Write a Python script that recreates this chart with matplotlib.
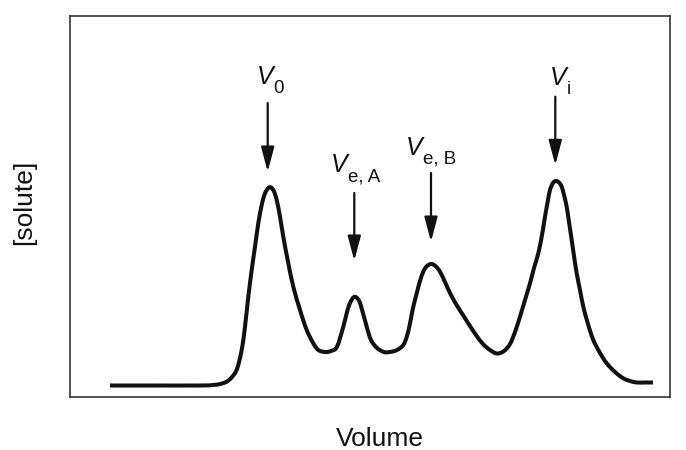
import matplotlib
matplotlib.use("Agg")
import matplotlib.pyplot as plt
import numpy as np
from matplotlib.patches import FancyArrowPatch, PathPatch
from matplotlib.path import Path

plt.rcParams['font.family'] = ['Liberation Sans', 'DejaVu Sans']

# Elution profile (arbitrary units)
volume = [40, 80, 130, 143, 150, 156.7, 162, 167, 171.7, 175, 178.3, 181.7, 185, 188.3,
          191.7, 195, 199.3, 203.3, 206.7, 210, 213.3, 218.3, 223.3, 230, 236.7, 243.3,
          248.3, 255, 261, 267, 273.3, 277, 280, 284, 288, 291, 296.7, 301, 307, 314,
          320, 327, 333.3, 337, 340, 343, 346.7, 350, 353.3, 357, 361.5, 366, 370, 375,
          380, 386, 393.3, 400, 406.7, 413, 420, 427, 434, 440, 445, 450, 455, 460, 464,
          468.3, 472, 475, 478, 480, 483, 486, 489, 491.7, 494, 496.7, 499, 501.7, 504,
          506.7, 510, 513.3, 518, 523.3, 530, 536.7, 545, 553.3, 560, 566.7, 575, 583]
solute = [11.5, 11.5, 11.5, 12, 13, 15.3, 20, 28, 47, 70.3, 100.3, 127, 150.3, 173.7,
          192, 203.7, 209.7, 207, 197, 180.3, 160.3, 133.7, 110.3, 87, 67, 53.7,
          47, 45, 46, 50.3, 70.3, 85, 94, 100, 98, 91, 70.3, 57, 49, 45,
          45, 47, 52, 61, 73.7, 89, 103.7, 116, 125.3, 131, 133, 130.5, 125.3, 115,
          104, 93, 81.5, 71, 61, 53, 47, 43.5, 46, 53, 65, 80.3, 97, 113.7, 129,
          143.7, 162, 180.3, 197, 207, 214, 216, 214.5, 210.3, 202, 190.3, 175, 157, 141,
          123.7, 107, 90.3, 73, 57, 44, 33.7, 25, 18.7, 16, 14.5, 14.5, 14.5]

# Peak annotations
peak_main = ['V', 'V', 'V', 'V']
peak_sub = ['0', 'e, A', 'e, B', 'i']
arrow_x = [197.7, 284.3, 361, 485.3]
arrow_tip = [225.3, 136.3, 155.3, 232]
arrow_tail = [294, 204, 224, 300.3]
label_x = [186.5, 260.5, 335.5, 479.5]
label_y = [313, 225, 242, 312]

W, H = 686, 450
fig = plt.figure(figsize=(W / 100, H / 100), dpi=100)
ax = fig.add_axes([70 / W, (H - 397) / H, 600 / W, 381 / H])
ax.set_xlim(0, 600)
ax.set_ylim(0, 381)
ax.set_xticks([])
ax.set_yticks([])
for s in ax.spines.values():
    s.set_color('#333333')
    s.set_linewidth(1.2)

# smooth rendering of the profile through the read points (Catmull-Rom as cubic Beziers)
P = np.column_stack([volume, solute]).astype(float)
Pext = np.vstack([P[0], P, P[-1]])
verts = [tuple(P[0])]
codes = [Path.MOVETO]
for i in range(1, len(Pext) - 2):
    p0, p1, p2, p3 = Pext[i - 1], Pext[i], Pext[i + 1], Pext[i + 2]
    c1 = p1 + (p2 - p0) / 6.0
    c2 = p2 - (p3 - p1) / 6.0
    verts += [tuple(c1), tuple(c2), tuple(p2)]
    codes += [Path.CURVE4] * 3
ax.add_patch(PathPatch(Path(verts, codes), facecolor='none', edgecolor='#111111',
                       lw=2.9, capstyle='butt', joinstyle='round'))

for i in range(len(peak_main)):
    arr = FancyArrowPatch((arrow_x[i], arrow_tail[i]), (arrow_x[i], arrow_tip[i]),
                          arrowstyle='-|>,head_length=15,head_width=4',
                          mutation_scale=1, lw=1.6, color='#111111',
                          shrinkA=0, shrinkB=0)
    ax.add_patch(arr)
    t = ax.text(label_x[i], label_y[i], peak_main[i], fontsize=18, style='italic',
                ha='left', va='baseline', color='#111111')
    fig.canvas.draw()
    bb = t.get_window_extent().transformed(ax.transData.inverted())
    ax.text(bb.x1 + 0.5, label_y[i] - 9, peak_sub[i], fontsize=13.5,
            ha='left', va='baseline', color='#111111')

fig.text(380 / W, 1 - 446 / H, 'Volume', fontsize=19, ha='center', va='baseline',
         color='#111111')
fig.text(24 / W, 1 - 202 / H, '[solute]', fontsize=19, ha='center', va='center',
         rotation=90, color='#111111')

fig.savefig('out.png', dpi=100)
